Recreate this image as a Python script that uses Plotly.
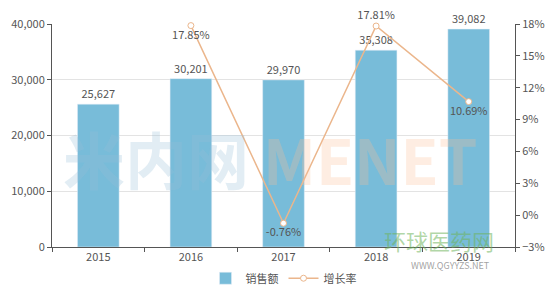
import plotly.graph_objects as go

years = ["2015", "2016", "2017", "2018", "2019"]
sales = [25627, 30201, 29970, 35308, 39082]
growth_years = ["2016", "2017", "2018", "2019"]
growth = [17.85, -0.76, 17.81, 10.69]
growth_pos = ["bottom center", "bottom center", "top center", "bottom center"]

font_fam = "Noto Sans CJK SC, Noto Sans, sans-serif"
fig = go.Figure()
fig.add_trace(go.Bar(
    x=years, y=sales, name="销售额",
    marker=dict(color="#78bcd9"),
    text=[f"{v:,}" for v in sales], textposition="outside",
    textfont=dict(color="#555555", size=11), cliponaxis=False,
))
fig.add_trace(go.Scatter(
    x=growth_years, y=growth, name="增长率", yaxis="y2",
    mode="lines+markers+text",
    line=dict(color="#ebb68c", width=1.5),
    marker=dict(symbol="circle", size=6, color="white", line=dict(color="#ebb68c", width=1)),
    text=[f"{v:.2f}%" for v in growth], textposition=growth_pos,
    textfont=dict(color="#555555", size=11), cliponaxis=False,
))

# faint watermarks
fig.add_annotation(
    text="<b><span style='color:rgba(150,190,215,0.28)'>米内网</span> "
         "<span style='color:rgba(250,190,150,0.28)'>MENET</span></b>",
    x=0.47, y=0.40, xref="paper", yref="paper",
    showarrow=False, font=dict(size=62, family=font_fam))
fig.add_annotation(text="环球医药网", x=0.96, y=-0.05, xref="paper", yref="paper",
                   showarrow=False, font=dict(size=22, color="rgba(110,180,90,0.55)", family=font_fam))
fig.add_annotation(text="WWW.QGYYZS.NET", x=0.95, y=-0.12, xref="paper", yref="paper",
                   showarrow=False, font=dict(size=9, color="rgba(120,120,120,0.7)", family=font_fam))

fig.update_layout(
    width=553, height=295,
    margin=dict(l=52, r=38, t=24, b=48, autoexpand=False),
    paper_bgcolor="white", plot_bgcolor="white",
    font=dict(family=font_fam, size=11, color="#555555"),
    bargap=0.55,
    showlegend=True,
    legend=dict(orientation="h", x=0.5, xanchor="center", y=-0.14, yanchor="middle",
                font=dict(size=11, color="#555555")),
    xaxis=dict(type="category", showline=True, linecolor="#555555", ticks="outside",
               tickson="boundaries", ticklen=4, tickcolor="#555555", showgrid=False),
    yaxis=dict(range=[0, 40000], dtick=10000, tickformat=",", showline=True,
               linecolor="#555555", ticks="outside", ticklen=4, tickcolor="#555555",
               gridcolor="#e3e3e3", zeroline=False),
    yaxis2=dict(range=[-3, 18], dtick=3, ticksuffix="%", overlaying="y", side="right",
                showline=True, linecolor="#555555", ticks="outside", ticklen=4,
                tickcolor="#555555", showgrid=False, zeroline=False),
)
fig.write_html("out.html")
